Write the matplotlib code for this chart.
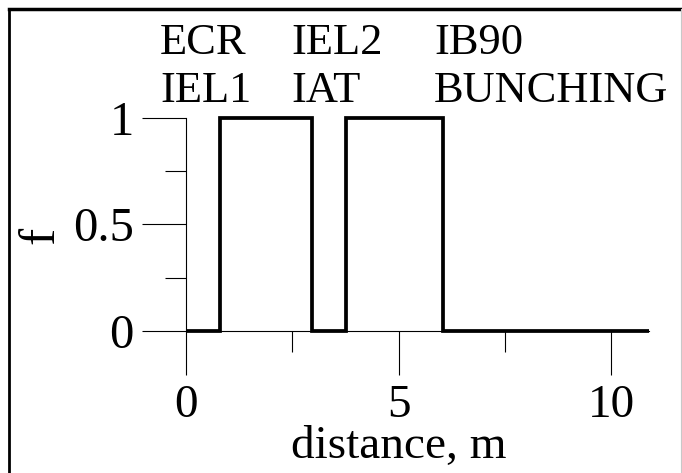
import matplotlib
matplotlib.use("Agg")
import matplotlib.pyplot as plt
from matplotlib.lines import Line2D

# Step profile: breakpoints along the line and the value on each interval
edges = [0.0, 0.80, 2.97, 3.76, 6.05, 10.9]
values = [0, 1, 0, 1, 0]

# Element labels (two rows) and their left positions
label_x = [-0.61, 2.47, 5.84]
top_row = ["ECR", "IEL2", "IB90"]
bottom_row = ["IEL1", "IAT", "BUNCHING"]

x_major = [0, 5, 10]
x_minor = [2.5, 7.5]
y_major = [0, 0.5, 1]
y_minor = [0.25, 0.75]

plt.rcParams["font.family"] = ["Liberation Serif", "DejaVu Serif"]
FS_TEXT = 32
FS_TICK = 35
FS_LABEL = 34

fig = plt.figure(figsize=(6.82, 4.73), dpi=100)
W, H = 682, 473
ax = fig.add_axes([143.5 / W, (H - 394.5) / H, 510 / W, 319 / H])
ax.set_xlim(-1, 11)
ax.set_ylim(-0.3, 1.2)

ax.stairs(values, edges, baseline=None, color="black", lw=2.7)

for s in ("top", "right"):
    ax.spines[s].set_visible(False)
ax.spines["left"].set_position(("data", 0))
ax.spines["bottom"].set_position(("data", 0))
ax.spines["left"].set_bounds(0, 1)
ax.spines["bottom"].set_bounds(0, 10.9)
for s in ("left", "bottom"):
    ax.spines[s].set_linewidth(0.8)

ax.set_xticks(x_major)
ax.set_xticks(x_minor, minor=True)
ax.set_yticks(y_major)
ax.set_yticks(y_minor, minor=True)
ax.set_xticklabels([str(v) for v in x_major])
ax.set_yticklabels(["0", "0.5", "1"])
ax.tick_params(which="major", length=31.5, width=0.8, direction="out",
               labelsize=FS_TICK, pad=6)
ax.tick_params(which="minor", length=15, width=0.8, direction="out")
ax.tick_params(axis="x", which="major", labelsize=34, pad=7)

ax.set_xlabel("distance, m", fontsize=FS_LABEL, labelpad=-1)
ax.set_ylabel("f", fontsize=37, labelpad=6)

for x, t1, t2 in zip(label_x, top_row, bottom_row):
    ax.text(x, 1.30, t1, fontsize=FS_TEXT, ha="left", va="baseline", clip_on=False)
    ax.text(x, 1.075, t2, fontsize=FS_TEXT, ha="left", va="baseline", clip_on=False)

# frame around the figure
fig.add_artist(Line2D([9 / W, 9 / W], [0, 1 - 9 / H], transform=fig.transFigure,
                      color="black", lw=2))
fig.add_artist(Line2D([9 / W, 1], [1 - 9 / H, 1 - 9 / H], transform=fig.transFigure,
                      color="black", lw=2.5))
fig.add_artist(Line2D([680.5 / W, 680.5 / W], [0, 1 - 9 / H], transform=fig.transFigure,
                      color="#c8c8c8", lw=0.8))

fig.savefig("out.png", dpi=100)
